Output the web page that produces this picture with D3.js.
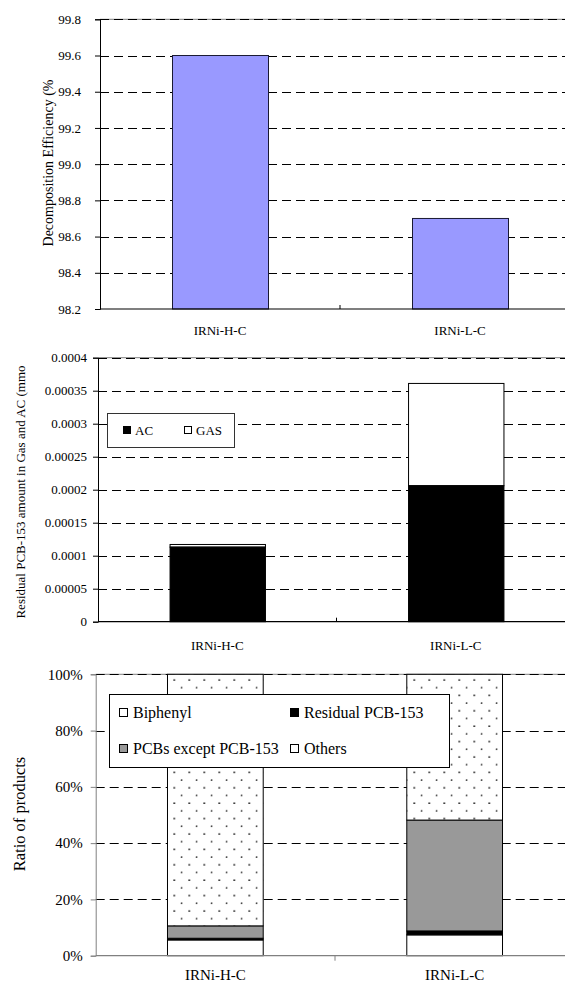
<!DOCTYPE html>
<html>
<head>
<meta charset="utf-8">
<script src="https://cdn.jsdelivr.net/npm/d3@7/dist/d3.min.js"></script>
<style>
  html, body { margin: 0; padding: 0; background: #fff; }
  svg { display: block; }
  text { font-family: "Liberation Serif", "Times New Roman", serif; fill: #000; }
</style>
</head>
<body>
<svg id="chart" width="565" height="987"></svg>
<script>
// Catalyst samples shared by all three panels
const categories = ["IRNi-H-C", "IRNi-L-C"];

// Panel 1: decomposition efficiency (%)
const efficiency = [99.6, 98.7];
const effTicks = [98.2, 98.4, 98.6, 98.8, 99.0, 99.2, 99.4, 99.6, 99.8];

// Panel 2: residual PCB-153 amount (mmol), stacked AC + GAS
const residualAC = [0.000113, 0.000206];
const residualGAS = [0.000004, 0.000155];
const residualTicks = [0, 0.00005, 0.0001, 0.00015, 0.0002, 0.00025, 0.0003, 0.00035, 0.0004];
const residualTickLabels = ["0", "0.00005", "0.0001", "0.00015", "0.0002", "0.00025", "0.0003", "0.00035", "0.0004"];

// Panel 3: product ratio (%), stacked bottom to top
const others = [5.6, 7.4];
const residualPCB = [0.6, 1.4];
const pcbsExcept = [4.4, 39.4];
const biphenyl = [89.4, 51.8];
const ratioTicks = [0, 20, 40, 60, 80, 100];

const svg = d3.select("#chart");

// dotted fill for the Biphenyl segment
const defs = svg.append("defs");
const pat = defs.append("pattern")
  .attr("id", "dots").attr("patternUnits", "userSpaceOnUse")
  .attr("width", 15).attr("height", 15.4)
  .attr("x", 167.3).attr("y", 676);
pat.append("rect").attr("width", 15).attr("height", 15.4).attr("fill", "#fff");
pat.append("circle").attr("cx", 7).attr("cy", 4).attr("r", 0.9).attr("fill", "#111");
pat.append("circle").attr("cx", 14.5).attr("cy", 11.7).attr("r", 0.9).attr("fill", "#111");

function band(left, right) {
  return d3.scaleBand().domain(categories).range([left, right])
    .paddingInner(0.6).paddingOuter(0.3);
}

function gridlines(g, y, ticks, left, right, topVal) {
  g.append("line")
    .attr("x1", left).attr("x2", right)
    .attr("y1", y(topVal)).attr("y2", y(topVal))
    .attr("stroke", "#808080").attr("stroke-width", 1);
  g.selectAll(null).data(ticks.filter(t => t !== ticks[0]))
    .join("line")
    .attr("x1", left).attr("x2", right)
    .attr("y1", d => Math.round(y(d)) + 0.5).attr("y2", d => Math.round(y(d)) + 0.5)
    .attr("stroke", "#000").attr("stroke-width", 1)
    .attr("stroke-dasharray", "9,5");
}

function leftAxis(g, y, ticks, fmt, left, color, fs, gap) {
  const ax = d3.axisLeft(y).tickValues(ticks).tickFormat(fmt)
    .tickSize(5).tickPadding(gap);
  const a = g.append("g").attr("transform", `translate(${left},0)`).call(ax);
  a.select(".domain").attr("stroke", color);
  a.selectAll(".tick line").attr("stroke", color);
  a.selectAll(".tick text").attr("font-size", fs)
    .attr("font-family", "Liberation Serif, Times New Roman, serif").attr("fill", "#000");
  return a;
}

function bottomAxis(g, x, yBase, left, right, color, fs, labelY, tickUp) {
  g.append("line").attr("x1", left).attr("x2", right)
    .attr("y1", yBase).attr("y2", yBase).attr("stroke", color).attr("stroke-width", 1.2);
  const mid = (x(categories[0]) + x.bandwidth() + x(categories[1])) / 2;
  g.append("line").attr("x1", mid).attr("x2", mid)
    .attr("y1", yBase).attr("y2", tickUp ? yBase - 4 : yBase + 5)
    .attr("stroke", color);
  g.selectAll(null).data(categories).join("text")
    .attr("x", d => x(d) + x.bandwidth() / 2)
    .attr("y", labelY)
    .attr("text-anchor", "middle")
    .attr("font-size", fs)
    .text(d => d);
}

function yTitle(g, text, cx, cy, fs) {
  g.append("text")
    .attr("transform", `translate(${cx},${cy}) rotate(-90)`)
    .attr("text-anchor", "middle")
    .attr("dominant-baseline", "central")
    .attr("font-size", fs)
    .text(text);
}

// ---------- Panel 1: decomposition efficiency ----------
{
  const g = svg.append("g");
  const left = 100, right = 580, top = 19.3, bottom = 309;
  const x = band(left, right);
  const y = d3.scaleLinear().domain([98.2, 99.8]).range([bottom, top]);
  gridlines(g, y, effTicks, left, right, 99.8);
  g.selectAll(null).data(categories).join("rect")
    .attr("x", d => x(d) + 0.5)
    .attr("y", (d, i) => y(efficiency[i]))
    .attr("width", x.bandwidth())
    .attr("height", (d, i) => bottom - y(efficiency[i]))
    .attr("fill", "#9999FF").attr("stroke", "#1a1a33").attr("stroke-width", 1);
  leftAxis(g, y, effTicks, d3.format(".1f"), left, "#000", 13, 14);
  bottomAxis(g, x, bottom, left, right, "#000", 13, 335, true);
  yTitle(g, "Decomposition Efficiency (%", 48, 163, 14);
}

// ---------- Panel 2: residual PCB-153 ----------
{
  const g = svg.append("g");
  const left = 98, right = 575, top = 357.7, bottom = 621.7;
  const x = band(left, right);
  const y = d3.scaleLinear().domain([0, 0.0004]).range([bottom, top]);
  gridlines(g, y, residualTicks, left, right, 0.0004);
  const stack = categories.map((c, i) => ({ c, ac: residualAC[i], gas: residualGAS[i] }));
  g.selectAll(null).data(stack).join("rect")
    .attr("x", d => x(d.c) + 0.5)
    .attr("y", d => y(d.ac + d.gas))
    .attr("width", x.bandwidth())
    .attr("height", d => y(d.ac) - y(d.ac + d.gas))
    .attr("fill", "#fff").attr("stroke", "#000").attr("stroke-width", 1);
  g.selectAll(null).data(stack).join("rect")
    .attr("x", d => x(d.c) + 0.5)
    .attr("y", d => y(d.ac))
    .attr("width", x.bandwidth())
    .attr("height", d => bottom - y(d.ac))
    .attr("fill", "#000").attr("stroke", "#000").attr("stroke-width", 1);
  leftAxis(g, y, residualTicks, (d, i) => residualTickLabels[i], left, "#000", 13, 6);
  bottomAxis(g, x, bottom, left, right, "#000", 13, 650, true);
  yTitle(g, "Residual PCB-153 amount in Gas and AC (mmo", 20, 492, 13);

  // legend
  const lg = g.append("g");
  lg.append("rect").attr("x", 107.5).attr("y", 413.5).attr("width", 127).attr("height", 34)
    .attr("fill", "#fff").attr("stroke", "#333").attr("stroke-width", 1);
  const items = [{ t: "AC", fill: "#000", x: 123 }, { t: "GAS", fill: "#fff", x: 184 }];
  items.forEach(it => {
    lg.append("rect").attr("x", it.x + 0.5).attr("y", 426.5).attr("width", 7).attr("height", 7)
      .attr("fill", it.fill).attr("stroke", "#000");
    lg.append("text").attr("x", it.x + 12).attr("y", 434.5).attr("font-size", 13).text(it.t);
  });
}

// ---------- Panel 3: ratio of products ----------
{
  const g = svg.append("g");
  const left = 95.7, right = 574.3, top = 674.3, bottom = 955.7;
  const x = band(left, right);
  const y = d3.scaleLinear().domain([0, 100]).range([bottom, top]);
  gridlines(g, y, ratioTicks, left, right, 100);

  const rows = categories.map((c, i) => ({
    c, others: others[i], residual: residualPCB[i], pcbs: pcbsExcept[i], biphenyl: biphenyl[i]
  }));
  const keys = ["others", "residual", "pcbs", "biphenyl"];
  const fills = { others: "#fff", residual: "#000", pcbs: "#999999", biphenyl: "url(#dots)" };
  const series = d3.stack().keys(keys)(rows);
  series.forEach(s => {
    g.selectAll(null).data(s).join("rect")
      .attr("x", d => x(d.data.c))
      .attr("y", d => y(d[1]))
      .attr("width", x.bandwidth())
      .attr("height", d => y(d[0]) - y(d[1]))
      .attr("fill", fills[s.key]).attr("stroke", "#000").attr("stroke-width", 1);
  });

  leftAxis(g, y, ratioTicks, d => d + "%", left, "#808080", 15, 8);
  bottomAxis(g, x, bottom, left, right, "#808080", 15, 980, false);
  yTitle(g, "Ratio of products", 19, 814, 16.5);

  // legend
  const lg = g.append("g");
  lg.append("rect").attr("x", 109.5).attr("y", 694.5).attr("width", 340).attr("height", 73)
    .attr("fill", "#fff").attr("stroke", "#000").attr("stroke-width", 1);
  const items = [
    { t: "Biphenyl", fill: "#fff", x: 119, y: 713 },
    { t: "Residual PCB-153", fill: "#000", x: 290, y: 713 },
    { t: "PCBs except PCB-153", fill: "#999999", x: 119, y: 749 },
    { t: "Others", fill: "#fff", x: 290, y: 749 }
  ];
  items.forEach(it => {
    lg.append("rect").attr("x", it.x + 0.5).attr("y", it.y - 4.5).attr("width", 8).attr("height", 8)
      .attr("fill", it.fill).attr("stroke", "#000");
    lg.append("text").attr("x", it.x + 14).attr("y", it.y + 5).attr("font-size", 16).text(it.t);
  });
}
</script>
</body>
</html>
